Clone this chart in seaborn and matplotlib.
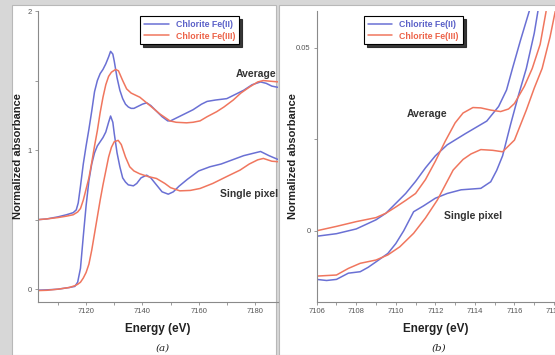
import numpy as np
import pandas as pd
import matplotlib
matplotlib.use("Agg")
import matplotlib.pyplot as plt
from matplotlib.patches import Rectangle
from matplotlib.ticker import MultipleLocator
import seaborn as sns

# ---- panel (a): full XANES, averages offset by +0.5 ----
e_avg_fe2 = [7103, 7106, 7110, 7113, 7115.4, 7116.5, 7117.2, 7118, 7119, 7120, 7121, 7122, 7123,
             7124, 7125, 7126, 7127, 7128, 7128.7, 7129.5, 7130, 7131, 7132, 7133, 7134, 7135,
             7136, 7137, 7138, 7139, 7140, 7141.5, 7143, 7145, 7147, 7149, 7150, 7152, 7155,
             7158, 7161, 7163, 7166, 7170, 7173, 7176, 7179, 7182, 7184, 7186, 7188.5]
a_avg_fe2 = [0.50, 0.505, 0.52, 0.535, 0.55, 0.57, 0.62, 0.74, 0.90, 1.03, 1.15, 1.28, 1.42,
             1.50, 1.55, 1.58, 1.62, 1.67, 1.71, 1.69, 1.64, 1.52, 1.43, 1.37, 1.33, 1.31,
             1.30, 1.30, 1.31, 1.32, 1.33, 1.34, 1.32, 1.28, 1.24, 1.21, 1.21, 1.23, 1.26,
             1.29, 1.33, 1.35, 1.36, 1.37, 1.40, 1.43, 1.47, 1.49, 1.48, 1.46, 1.45]

e_avg_fe3 = [7103, 7106, 7110, 7113, 7115.4, 7117, 7118, 7119, 7120, 7121, 7122, 7123, 7124,
             7125, 7126, 7127, 7128, 7129, 7130.5, 7131.5, 7133, 7134.4, 7136, 7139.1, 7142.7,
             7146.2, 7149.8, 7152, 7155.7, 7158, 7160.5, 7163, 7166.4, 7169, 7172.3, 7175,
             7178.2, 7181, 7183, 7185.5, 7188.5]
a_avg_fe3 = [0.50, 0.505, 0.515, 0.525, 0.535, 0.555, 0.58, 0.64, 0.72, 0.80, 0.91, 1.03, 1.14,
             1.27, 1.38, 1.47, 1.53, 1.56, 1.58, 1.57, 1.50, 1.44, 1.41, 1.38, 1.32,
             1.26, 1.21, 1.20, 1.196, 1.20, 1.21, 1.24, 1.276, 1.31, 1.36, 1.41,
             1.455, 1.49, 1.50, 1.495, 1.49]

e_pix_fe2 = [7103, 7106, 7110, 7114, 7116, 7117, 7118, 7119, 7120, 7121, 7122, 7123, 7124,
             7125, 7126, 7127, 7128, 7128.7, 7129.5, 7130, 7131, 7132, 7133, 7134, 7135,
             7136.8, 7138, 7139.5, 7141.5, 7143, 7145, 7147, 7149.2, 7151, 7153, 7156,
             7160, 7164, 7168, 7172, 7176, 7180, 7182, 7185, 7188.5]
a_pix_fe2 = [-0.007, -0.005, 0.0, 0.012, 0.02, 0.05, 0.15, 0.38, 0.60, 0.78, 0.90, 0.98, 1.03,
             1.06, 1.09, 1.13, 1.20, 1.245, 1.20, 1.12, 0.98, 0.88, 0.80, 0.77, 0.75,
             0.743, 0.76, 0.80, 0.82, 0.80, 0.75, 0.70, 0.683, 0.70, 0.74, 0.79,
             0.85, 0.88, 0.90, 0.93, 0.96, 0.98, 0.99, 0.96, 0.93]

e_pix_fe3 = [7103, 7106, 7110, 7114, 7116, 7117, 7118, 7119, 7120, 7121, 7122, 7123, 7124,
             7125, 7126, 7127, 7128, 7129, 7130, 7131.4, 7132.5, 7134, 7135.5, 7137, 7139,
             7142, 7145, 7148, 7150, 7153.3, 7157, 7160.5, 7165, 7170, 7174.7, 7178, 7181,
             7183, 7186, 7188.5]
a_pix_fe3 = [-0.01, -0.008, 0.0, 0.012, 0.025, 0.035, 0.05, 0.08, 0.12, 0.18, 0.28, 0.40, 0.52,
             0.64, 0.75, 0.85, 0.95, 1.02, 1.06, 1.07, 1.04, 0.95, 0.88, 0.85, 0.83,
             0.81, 0.796, 0.76, 0.73, 0.707, 0.71, 0.724, 0.76, 0.81, 0.856, 0.90, 0.93,
             0.94, 0.92, 0.916]

# ---- panel (b): pre-edge zoom ----
eb_avg_fe2 = [7106.0, 7107.0, 7108.0, 7109.0, 7109.5, 7110.0, 7110.5, 7111.0, 7111.5, 7112.0,
              7112.6, 7113.5, 7114.6, 7115.2, 7115.6, 7115.9, 7116.3, 7116.8]
b_avg_fe2 = [-0.0015, -0.0008, 0.0005, 0.0030, 0.0048, 0.0075, 0.0102, 0.0135, 0.0172, 0.0205,
             0.0235, 0.0265, 0.0300, 0.0340, 0.0385, 0.0444, 0.0520, 0.0610]

eb_avg_fe3 = [7106.0, 7107.0, 7108.0, 7109.0, 7109.5, 7110.0, 7110.5, 7111.0, 7111.5, 7112.0,
              7112.5, 7113.0, 7113.4, 7113.9, 7114.3, 7114.8, 7115.3, 7115.7, 7116.0, 7116.5,
              7116.9, 7117.3, 7117.6]
b_avg_fe3 = [0.0000, 0.0012, 0.0025, 0.0036, 0.0048, 0.0065, 0.0083, 0.0102, 0.0140, 0.0190,
             0.0245, 0.0295, 0.0322, 0.0337, 0.0336, 0.0330, 0.0326, 0.0333, 0.0348, 0.0395,
             0.0444, 0.0510, 0.0600]

eb_pix_fe2 = [7106.0, 7106.5, 7107.0, 7107.6, 7108.2, 7108.6, 7109.0, 7109.6, 7110.0, 7110.4,
              7110.9, 7111.4, 7112.0, 7112.6, 7113.3, 7114.3, 7114.8, 7115.1, 7115.4, 7115.8,
              7116.2, 7116.6, 7117.0, 7117.2]
b_pix_fe2 = [-0.0133, -0.0136, -0.0133, -0.0116, -0.0112, -0.0100, -0.0085, -0.0062, -0.0035, 0.0000,
             0.0052, 0.0068, 0.0089, 0.0102, 0.0112, 0.0116, 0.0134, 0.0165, 0.0205, 0.0290,
             0.0370, 0.0444, 0.0540, 0.0605]

eb_pix_fe3 = [7106.0, 7107.0, 7107.6, 7108.2, 7109.0, 7109.6, 7110.2, 7110.9, 7111.5, 7112.1,
              7112.9, 7113.4, 7113.8, 7114.3, 7114.9, 7115.4, 7116.0, 7116.6, 7117.0, 7117.4,
              7117.8, 7118.1]
b_pix_fe3 = [-0.0124, -0.0121, -0.0103, -0.0089, -0.0080, -0.0066, -0.0044, -0.0007, 0.0035, 0.0084,
             0.0166, 0.0195, 0.0210, 0.0222, 0.0220, 0.0216, 0.0248, 0.0330, 0.0390, 0.0444,
             0.0530, 0.0610]

labels = ['Chlorite Fe(II)', 'Chlorite Fe(III)']
colors = {'Chlorite Fe(II)': '#6a70d4', 'Chlorite Fe(III)': '#f0765e'}
text_colors = ['#5a60c8', '#ec6248']


def make_df(pairs):
    # pairs: list of (energy, absorbance, species, trace)
    frames = []
    for e, a, sp, tr in pairs:
        frames.append(pd.DataFrame({'Energy': e, 'Abs': a, 'Species': sp, 'Trace': tr}))
    return pd.concat(frames, ignore_index=True)


df_a = make_df([(e_avg_fe2, a_avg_fe2, labels[0], 'avg'), (e_avg_fe3, a_avg_fe3, labels[1], 'avg'),
                (e_pix_fe2, a_pix_fe2, labels[0], 'pix'), (e_pix_fe3, a_pix_fe3, labels[1], 'pix')])
df_b = make_df([(eb_avg_fe2, b_avg_fe2, labels[0], 'avg'), (eb_avg_fe3, b_avg_fe3, labels[1], 'avg'),
                (eb_pix_fe2, b_pix_fe2, labels[0], 'pix'), (eb_pix_fe3, b_pix_fe3, labels[1], 'pix')])

sns.set_theme(style="ticks")
plt.rcParams['font.family'] = ['Liberation Sans', 'DejaVu Sans']

W, H = 555, 355
fig = plt.figure(figsize=(W / 100, H / 100), dpi=100, facecolor='#d7d7d7')

# white panel backgrounds (behind the axes)
for x0, x1 in [(12, 276), (279, 556)]:
    fig.patches.append(Rectangle((x0 / W, 0), (x1 - x0) / W, (H - 5) / H, transform=fig.transFigure,
                                 facecolor='white', edgecolor='#b8b8b8', linewidth=0.8, zorder=-5))

ax_a = fig.add_axes([37.7 / W, 53.3 / H, 240.3 / W, 290.7 / H])
ax_b = fig.add_axes([316.7 / W, 53.3 / H, 238.3 / W, 290.7 / H])

for ax, d in [(ax_a, df_a), (ax_b, df_b)]:
    ax.set_facecolor('none')
    ax.set_zorder(2)
    sns.lineplot(data=d, x='Energy', y='Abs', hue='Species', units='Trace', estimator=None,
                 palette=colors, linewidth=1.1, sort=False, ax=ax, legend=False)
    for s in ['top', 'right']:
        ax.spines[s].set_visible(False)
    for s in ['left', 'bottom']:
        ax.spines[s].set_color('#8a8a8a')
        ax.spines[s].set_linewidth(0.8)
    ax.tick_params(axis='both', which='both', direction='out', length=2.5, width=0.6,
                   color='#8a8a8a', labelsize=5.5, labelcolor='#555555', pad=2)
    ax.set_ylabel('Normalized absorbance', fontsize=8, fontweight='bold', color='#222222')
    ax.set_xlabel('Energy (eV)', fontsize=8.5, fontweight='bold', color='#222222')
    ax.xaxis.set_label_coords(0.5, -0.072)

    handles = [plt.Line2D([], [], color=colors[l], lw=1.1) for l in labels]
    leg = ax.legend(handles, labels, prop={'size': 6.3, 'weight': 'bold'}, frameon=True,
                    fancybox=False, shadow={'color': '#222222', 'alpha': 0.9},
                    loc='upper left', borderaxespad=0, handlelength=2.8, handletextpad=0.8,
                    borderpad=0.45, labelspacing=0.3,
                    bbox_to_anchor=(0.426 if ax is ax_a else 0.198, 0.983))
    leg.get_frame().set_edgecolor('black')
    leg.get_frame().set_linewidth(0.8)
    for t, c in zip(leg.get_texts(), text_colors):
        t.set_color(c)

# panel (a) axes
ax_a.set_xlim(7102.8, 7188.2)
ax_a.set_ylim(-0.09, 2.0)
ax_a.xaxis.set_major_locator(MultipleLocator(20))
ax_a.xaxis.set_minor_locator(MultipleLocator(10))
ax_a.yaxis.set_major_locator(MultipleLocator(1))
ax_a.yaxis.set_minor_locator(MultipleLocator(0.5))
ax_a.yaxis.set_label_coords(-0.061, 0.5)
ax_a.text(7180.5, 1.55, 'Average', fontsize=7.5, fontweight='bold', color='#333333', ha='center', va='center')
ax_a.text(7178, 0.685, 'Single pixel', fontsize=7.5, fontweight='bold', color='#333333', ha='center', va='center')

# panel (b) axes
ax_b.set_xlim(7106, 7118.05)
ax_b.set_ylim(-0.0194, 0.0601)
ax_b.xaxis.set_major_locator(MultipleLocator(2))
ax_b.xaxis.set_minor_locator(MultipleLocator(1))
ax_b.yaxis.set_major_locator(MultipleLocator(0.05))
ax_b.yaxis.set_minor_locator(MultipleLocator(0.025))
ax_b.yaxis.set_major_formatter(plt.FuncFormatter(lambda v, p: '0' if abs(v) < 1e-9 else f'{v:g}'))
ax_b.yaxis.set_label_coords(-0.078, 0.5)
ax_b.text(7111.6, 0.0318, 'Average', fontsize=7.5, fontweight='bold', color='#333333', ha='center', va='center')
ax_b.text(7113.9, 0.0040, 'Single pixel', fontsize=7.5, fontweight='bold', color='#333333', ha='center', va='center')

fig.text(163 / W, 1 - 347.7 / H, '(a)', family='DejaVu Serif', style='italic', fontsize=7.5,
         ha='center', va='center', color='#222222')
fig.text(439 / W, 1 - 347.7 / H, '(b)', family='DejaVu Serif', style='italic', fontsize=7.5,
         ha='center', va='center', color='#222222')

fig.savefig('out.png', dpi=100, facecolor=fig.get_facecolor())
